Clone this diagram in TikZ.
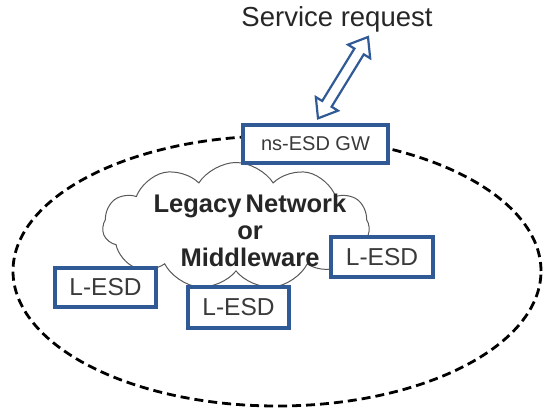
\documentclass[tikz,border=0pt]{standalone}
\usepackage{fontspec}
\setmainfont{Liberation Sans}
\usetikzlibrary{shapes.symbols,calc}
\definecolor{boxblue}{HTML}{2F5A96}
\definecolor{txtgray}{HTML}{3A3A3A}
\tikzset{
  esdbox/.style={draw=boxblue, line width=3.3pt, fill=white, inner sep=0pt,
    text=txtgray, font=\fontsize{24.5}{28}\selectfont},
  region/.style={draw=black, line width=2.8pt, dash pattern=on 9pt off 5pt},
  netcloud/.style={cloud, cloud puffs=11, cloud puff arc=115, aspect=2.1,
    draw=black!65, line width=1pt, fill=white, inner sep=0pt},
  linkarrow/.style={draw=boxblue, line width=2.2pt, fill=white, line join=miter}
}
\begin{document}
\begin{tikzpicture}[x=1pt,y=1pt]
\useasboundingbox (0,0) rectangle (544,410);
% dashed domain boundary
\draw[region] (277,139) ellipse [x radius=264, y radius=135];
% legacy network cloud
\node[netcloud, minimum width=267pt, minimum height=127pt] (net) at (236,184) {};
\node[align=center, text=black!85, font=\bfseries\fontsize{25.5}{27}\selectfont] (netlabel) at (250,180)
  {Legacy\,Network\\or\\Middleware};
% gateway and legacy devices
\node[esdbox, minimum width=145pt, minimum height=38pt, font=\fontsize{20}{23}\selectfont] (gw) at (315.5,266) {ns-ESD GW};
\node[esdbox, minimum width=102pt, minimum height=40pt] (esdr) at (382,153) {L-ESD};
\node[esdbox, minimum width=101pt, minimum height=41pt] (esdb) at (238.5,102.5) {L-ESD};
\node[esdbox, minimum width=101pt, minimum height=39pt] (esdl) at (105.5,122.5) {L-ESD};
% service request
\node[text=black!85, font=\fontsize{27.5}{30}\selectfont] (req) at (337,391) {Service request};
% hollow two-way arrow between gateway and request
\coordinate (la) at ($(gw.north)+(2.5,5)$);
\coordinate (lb) at ($(req)+(31,-18)$);
\coordinate (h1) at ($(la)!17pt!(lb)$);
\coordinate (h2) at ($(lb)!17pt!(la)$);
\draw[linkarrow] (la)
  -- ($(h1)!13pt!90:(lb)$) -- ($(h1)!5.5pt!90:(lb)$)
  -- ($(h2)!5.5pt!-90:(la)$) -- ($(h2)!13pt!-90:(la)$)
  -- (lb)
  -- ($(h2)!13pt!90:(la)$) -- ($(h2)!5.5pt!90:(la)$)
  -- ($(h1)!5.5pt!-90:(lb)$) -- ($(h1)!13pt!-90:(lb)$)
  -- cycle;
\end{tikzpicture}
\end{document}
